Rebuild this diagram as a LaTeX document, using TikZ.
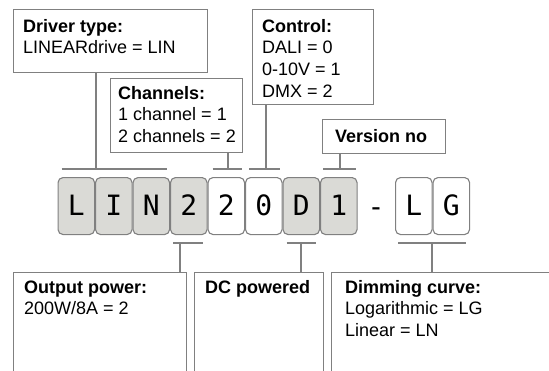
\documentclass[tikz,border=0pt]{standalone}
\usepackage{fontspec}
\setmainfont{Liberation Sans}
\newfontfamily\monofnt{DejaVu Sans Mono}
\definecolor{linegray}{RGB}{128,128,128}
\definecolor{cellgray}{RGB}{218,218,214}
\tikzset{
  infobox/.style={draw=linegray, line width=1.2pt, rectangle, inner sep=0pt, anchor=north west},
  infotext/.style={anchor=base west, inner sep=0pt, font=\fontsize{18}{21.7}\selectfont},
  cell/.style={draw=linegray, line width=1.1pt, rounded corners=5pt, minimum width=36.5pt, minimum height=57pt, inner sep=0pt, anchor=north west, text depth=2.5pt, font=\monofnt\fontsize{28}{32}\selectfont},
  graycell/.style={cell, fill=cellgray},
  whitecell/.style={cell, fill=white},
  conn/.style={draw=linegray, line width=1.2pt}
}
\newcommand{\boxlines}[1]{\renewcommand\arraystretch{1}\begin{tabular}[t]{@{}l@{}}#1\end{tabular}}
\begin{document}
\begin{tikzpicture}[x=1pt,y=-1pt]
\useasboundingbox (0,0) rectangle (549,370);
% letter cells
\node[graycell] (c1) at (57.5,177) {L};
\node[graycell] (c2) at (95,177) {I};
\node[graycell] (c3) at (132.5,177) {N};
\node[graycell] (c4) at (170,177) {2};
\node[whitecell] (c5) at (207.5,177) {2};
\node[whitecell] (c6) at (245,177) {0};
\node[graycell] (c7) at (282.5,177) {D};
\node[graycell] (c8) at (320,177) {1};
\node[font=\monofnt\fontsize{28}{32}\selectfont, inner sep=0pt, anchor=base] (dash) at (376,216) {-};
\node[whitecell] (c9) at (395,177) {L};
\node[whitecell] (c10) at (432.5,177) {G};
% info boxes
\node[infobox, minimum width=194pt, minimum height=63pt] (drv) at (13,9) {};
\node[infobox, minimum width=132pt, minimum height=74pt, fill=white] (chn) at (110,78) {};
\node[infobox, minimum width=121pt, minimum height=95pt] (ctl) at (252,9) {};
\node[infobox, minimum width=123pt, minimum height=34pt] (ver) at (322,119) {};
\node[infobox, minimum width=173pt, minimum height=130pt] (out) at (13,272) {};
\node[infobox, minimum width=129pt, minimum height=130pt] (dcp) at (194,272) {};
\node[infobox, minimum width=260pt, minimum height=130pt] (dim) at (331,272) {};
% texts
\node[infotext] (drvt) at (23,32) {\boxlines{\textbf{Driver type:}\\LINEARdrive = LIN}};
\node[infotext] (chnt) at (118,99) {\boxlines{\textbf{Channels:}\\1 channel = 1\\2 channels = 2}};
\node[infotext] (ctlt) at (262,32) {\boxlines{\textbf{Control:}\\DALI = 0\\0-10V = 1\\DMX = 2}};
\node[infotext] (vert) at (335,142) {\textbf{Version no}};
\node[infotext] (outt) at (24,293) {\boxlines{\textbf{Output power:}\\200W/8A = 2}};
\node[infotext] (dcpt) at (205,293) {\textbf{DC powered}};
\node[infotext] (dimt) at (345,293) {\boxlines{\textbf{Dimming curve:}\\Logarithmic = LG\\Linear = LN}};
% bracket coordinates
\coordinate (bdrv) at (96,169);
\coordinate (bchn) at (228,169);
\coordinate (bctl) at (266,169);
\coordinate (bver) at (340,169);
\coordinate (bout) at (180,243);
\coordinate (bdcp) at (301,243);
\coordinate (bdim) at (432,243);
% top connectors
\draw[conn] (drv.south -| bdrv) -- (bdrv);
\draw[conn] ([xshift=4pt]c1.north west |- bdrv) -- ([xshift=-3pt]c3.north east |- bdrv);
\draw[conn] (chn.south -| bchn) -- (bchn);
\draw[conn] ([xshift=5pt]c5.north west |- bchn) -- ([xshift=-3pt]c5.north east |- bchn);
\draw[conn] (ctl.south -| bctl) -- (bctl);
\draw[conn] ([xshift=4pt]c6.north west |- bctl) -- ([xshift=-3pt]c6.north east |- bctl);
\draw[conn] (ver.south -| bver) -- (bver);
\draw[conn] ([xshift=3pt]c8.north west |- bver) -- ([xshift=-2pt]c8.north east |- bver);
% bottom connectors
\draw[conn] (out.north -| bout) -- (bout);
\draw[conn] ([xshift=3pt]c4.south west |- bout) -- ([xshift=-5pt]c4.south east |- bout);
\draw[conn] (dcp.north -| bdcp) -- (bdcp);
\draw[conn] ([xshift=4pt]c7.south west |- bdcp) -- ([xshift=-4pt]c7.south east |- bdcp);
\draw[conn] (dim.north -| bdim) -- (bdim);
\draw[conn] ([xshift=3pt]c9.south west |- bdim) -- ([xshift=-4pt]c10.south east |- bdim);
\end{tikzpicture}
\end{document}
